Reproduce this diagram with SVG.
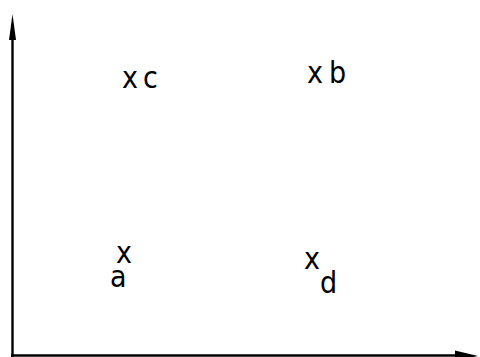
<svg xmlns="http://www.w3.org/2000/svg" width="480" height="357" viewBox="0 0 480 357">
<style>
text{font-family:"DejaVu Sans Condensed","DejaVu Sans",sans-serif;font-size:30px;fill:#000}
.ax{stroke:#000;stroke-width:2.4;fill:none}
</style>
<rect width="480" height="357" fill="#fff"/>
<g id="connectors">
<line class="ax" x1="12.5" y1="357" x2="12.5" y2="38"/>
<polygon points="12.5,14 9,40 16,40" fill="#000"/>
<line class="ax" x1="11" y1="355.5" x2="458" y2="355.5"/>
<polygon points="478,356 455,350.5 455,361" fill="#000"/>
</g>
<g id="c"><text x="122" y="88">x</text><text x="143" y="88">c</text></g>
<g id="b"><text x="307" y="83">x</text><text x="329" y="83">b</text></g>
<g id="a"><text x="116" y="263">x</text><text x="110" y="287">a</text></g>
<g id="d"><text x="304" y="269">x</text><text x="320" y="293">d</text></g>
</svg>
